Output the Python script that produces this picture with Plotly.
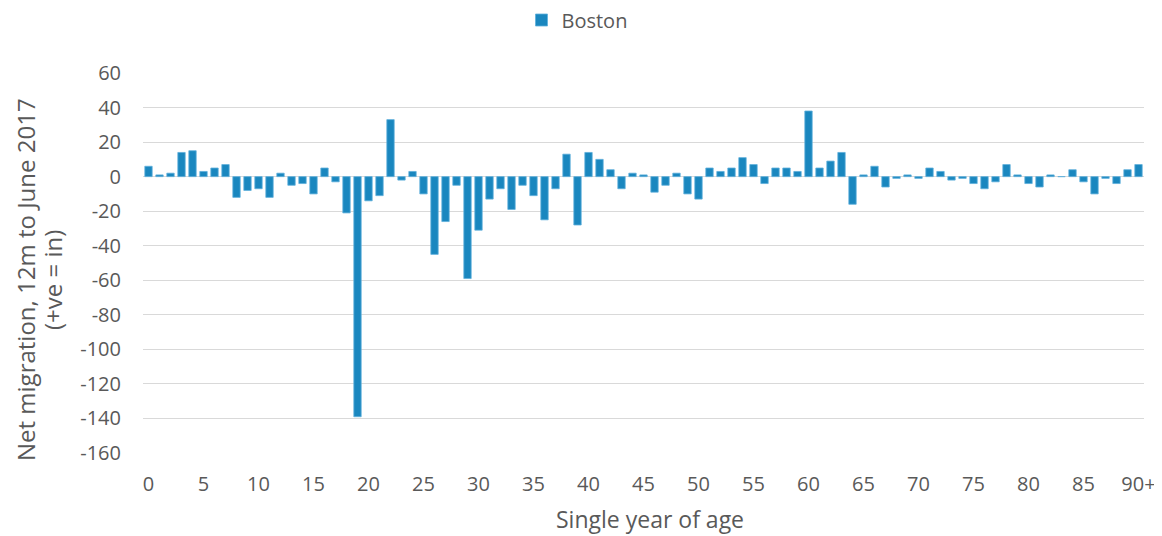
import plotly.graph_objects as go

ages = [str(i) for i in range(90)] + ["90+"]
net_migration = [
    6, 1, 2, 14, 15, 3, 5, 7, -12, -8,
    -7, -12, 2, -5, -4, -10, 5, -3, -21, -139,
    -14, -11, 33, -2, 3, -10, -45, -26, -5, -59,
    -31, -13, -7, -19, -5, -11, -25, -7, 13, -28,
    14, 10, 4, -7, 2, 1, -9, -5, 2, -10,
    -13, 5, 3, 5, 11, 7, -4, 5, 5, 3,
    38, 5, 9, 14, -16, 1, 6, -6, -1, 1,
    -1, 5, 3, -2, -1, -4, -7, -3, 7, 1,
    -4, -6, 1, 0, 4, -3, -10, -1, -4, 4,
    7,
]
tick_labels = [str(i) for i in range(0, 90, 5)] + ["90+"]
y_ticks = list(range(-160, 61, 20))
y_tick_text = [str(v) for v in y_ticks]
x_title = "Single year of age"
y_title_lines = ["Net migration, 12m to June 2017", "(+ve = in)"]

FONT = "Open Sans"
TXT = "#595959"
W, H = 1154, 528   # page body has an 8px margin
# plot area in page pixels
PL, PR, PT, PB = 143, 1144, 73, 453
PW, PH = PR - PL, PB - PT

fig = go.Figure()
fig.add_trace(go.Bar(
    x=ages, y=net_migration, name="Boston",
    marker=dict(color="#1a87bf", line=dict(color="#5fb0dc", width=0.8)),
))

annotations = [
    dict(text=x_title, xref="paper", yref="paper", showarrow=False,
         x=(650 - PL) / PW, y=-(519 - PB) / PH,
         xanchor="center", yanchor="middle", font=dict(size=23, color=TXT)),
    dict(text=y_title_lines[0], xref="paper", yref="paper", showarrow=False,
         x=-(PL - 25) / PW, y=(PB - 280) / PH, textangle=-90,
         xanchor="center", yanchor="middle", font=dict(size=24, color=TXT)),
    dict(text=y_title_lines[1], xref="paper", yref="paper", showarrow=False,
         x=-(PL - 52) / PW, y=(PB - 280) / PH, textangle=-90,
         xanchor="center", yanchor="middle", font=dict(size=24, color=TXT)),
]

fig.update_layout(
    width=W, height=H,
    margin=dict(l=PL - 8, r=W + 8 - PR, t=PT - 8, b=H + 8 - PB, autoexpand=False),
    paper_bgcolor="white", plot_bgcolor="white",
    bargap=0.33,
    font=dict(family=FONT, color=TXT, size=20),
    showlegend=True,
    legend=dict(orientation="h", xref="paper", yref="paper",
                x=(577 - PL) / PW, xanchor="center", y=1 + (PT - 20) / PH, yanchor="middle",
                font=dict(size=20, color=TXT, family=FONT)),
    annotations=annotations,
    xaxis=dict(
        type="category", tickmode="array", tickvals=tick_labels, ticktext=tick_labels,
        showgrid=False, showline=False, zeroline=False, ticks="", automargin=False,
        tickfont=dict(size=20, color=TXT), ticklabelstandoff=17,
    ),
    yaxis=dict(
        range=[-160, 60], tickmode="array", tickvals=y_ticks, ticktext=y_tick_text,
        showgrid=True, gridcolor="#d9d9d9", gridwidth=1.3,
        zeroline=True, zerolinecolor="#d9d9d9", zerolinewidth=1.3, automargin=False,
        showline=False, ticks="", tickfont=dict(size=20, color=TXT), ticklabelstandoff=21,
    ),
)

fig.write_html("out.html")
